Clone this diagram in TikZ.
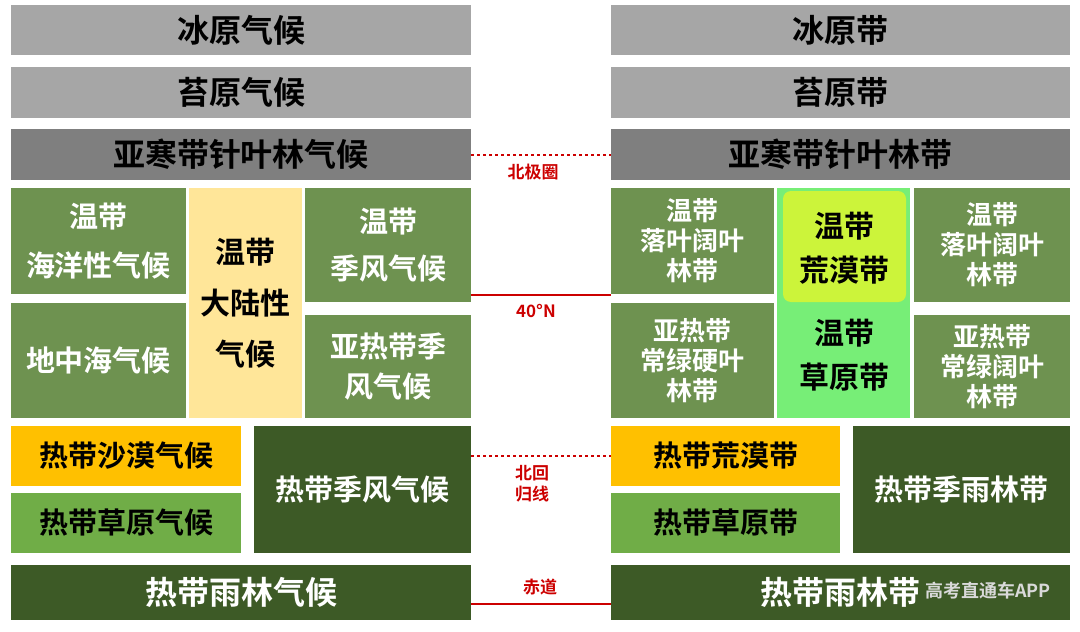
\documentclass[tikz,border=0pt]{standalone}
\usepackage{fontspec}
\setmainfont{Noto Sans CJK SC Bold}
\begin{document}
\begin{tikzpicture}[x=1pt,y=-1pt,
 bx/.style 2 args={inner sep=0pt,align=center,font={\fontsize{#1}{#1}\selectfont\baselineskip=#2em}},
 lab/.style={text=red!80!black,font={\fontsize{17}{21}\selectfont},align=center},
 ln/.style={red!80!black,line width=1.5pt}]
\definecolor{gA}{HTML}{A6A6A6}\definecolor{gB}{HTML}{7F7F7F}
\definecolor{gr}{HTML}{6E9250}\definecolor{yl}{HTML}{FFE699}
\definecolor{og}{HTML}{FFC000}\definecolor{lg}{HTML}{70AD47}
\definecolor{dg}{HTML}{3D5A26}\definecolor{mg}{HTML}{77EE77}\definecolor{yg}{HTML}{CCF43A}
\useasboundingbox (0,0) rectangle (1080,632);
\def\B#1#2#3#4#5#6#7#8{\fill[#5] (#1,#2) rectangle (#3,#4); \node[bx=#7,text=#6] (#8) at ({(#1+#3)/2},{(#2+#4)/2})}
% left
\B{11}{5}{471}{55}{gA}{black}{{32}{1.2}}{a1} {冰原气候};
\B{11}{67}{471}{118}{gA}{black}{{32}{1.2}}{a2} {苔原气候};
\B{11}{129}{471}{180}{gB}{black}{{32}{1.2}}{a3} {亚寒带针叶林气候};
\B{11}{188}{186}{294}{gr}{white}{{29}{1.7}}{a4} {温带\\海洋性气候};
\B{11}{303}{186}{418}{gr}{white}{{29}{1.2}}{a5} {地中海气候};
\B{189}{188}{302}{418}{yl}{black}{{30}{1.7}}{a6} {温带\\大陆性\\气候};
\B{305}{188}{471}{302}{gr}{white}{{29}{1.6}}{a7} {温带\\季风气候};
\B{305}{315}{471}{418}{gr}{white}{{29}{1.4}}{a8} {亚热带季\\风气候};
\B{11}{426}{241}{486}{og}{black}{{29}{1.2}}{a9} {热带沙漠气候};
\B{11}{493}{241}{553}{lg}{black}{{29}{1.2}}{a10} {热带草原气候};
\B{254}{426}{471}{553}{dg}{white}{{29}{1.2}}{a11} {热带季风气候};
\B{11}{565}{471}{620}{dg}{white}{{32}{1.2}}{a12} {热带雨林气候};
% right
\B{611}{5}{1070}{55}{gA}{black}{{32}{1.2}}{b1} {冰原带};
\B{611}{67}{1070}{118}{gA}{black}{{32}{1.2}}{b2} {苔原带};
\B{611}{129}{1070}{180}{gB}{black}{{32}{1.2}}{b3} {亚寒带针叶林带};
\B{611}{188}{774}{294}{gr}{white}{{26}{1.15}}{b4} {温带\\落叶阔叶\\林带};
\B{611}{303}{774}{418}{gr}{white}{{26}{1.15}}{b5} {亚热带\\常绿硬叶\\林带};
\fill[mg] (777,188) rectangle (910,418);
\fill[yg,rounded corners=8pt] (783,191) rectangle (906,302);
\node[bx={30}{1.45},text=black] (b6) at (844,248) {温带\\荒漠带};
\node[bx={30}{1.45},text=black] (b7) at (844,355) {温带\\草原带};
\B{914}{188}{1070}{302}{gr}{white}{{26}{1.15}}{b8} {温带\\落叶阔叶\\林带};
\B{914}{315}{1070}{418}{gr}{white}{{26}{1.15}}{b9} {亚热带\\常绿阔叶\\林带};
\B{611}{426}{840}{486}{og}{black}{{29}{1.2}}{b10} {热带荒漠带};
\B{611}{493}{840}{553}{lg}{black}{{29}{1.2}}{b11} {热带草原带};
\B{853}{426}{1070}{553}{dg}{white}{{29}{1.2}}{b12} {热带季雨林带};
\B{611}{565}{1070}{620}{dg}{white}{{32}{1.2}}{b13} {热带雨林带};
% lines
\coordinate (l1) at (471,155); \coordinate (r1) at (611,155);
\coordinate (l2) at (471,295); \coordinate (r2) at (611,295);
\coordinate (l3) at (471,456); \coordinate (r3) at (611,456);
\coordinate (l4) at (471,604); \coordinate (r4) at (611,604);
\draw[ln,dashed] (l1) -- (r1); \draw[ln] (l2) -- (r2);
\draw[ln,dashed] (l3) -- (r3); \draw[ln] (l4) -- (r4);
\node[lab] (t1) at (533,172) {北极圈};
\node[lab] (t2) at (536,311) {40°N};
\node[lab] (t3) at (532,484) {北回\\归线};
\node[lab] (t4) at (540,587) {赤道};
\node[text=white!70!gray,font={\fontsize{18}{20}\selectfont\mdseries}] (w) at (988,591) {高考直通车APP};
\end{tikzpicture}
\end{document}
